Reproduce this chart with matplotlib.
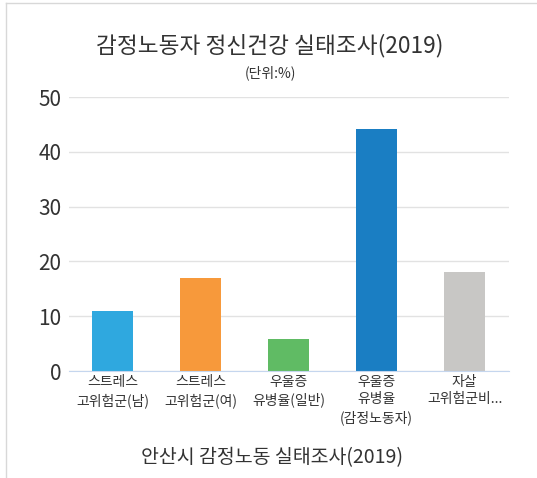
import matplotlib.pyplot as plt
from matplotlib.lines import Line2D

plt.rcParams['font.family'] = ['Noto Sans CJK KR', 'DejaVu Sans']

categories = ["스트레스\n고위험군(남)", "스트레스\n고위험군(여)", "우울증\n유병율(일반)",
              "우울증\n유병율\n(감정노동자)", "자살\n고위험군비..."]
values = [10.9, 17.0, 5.8, 44.1, 18.0]
colors = ["#2fa8df", "#f7993b", "#60bb64", "#1a7ec3", "#c8c7c5"]
yticks = [0, 10, 20, 30, 40, 50]

fig = plt.figure(figsize=(5.37, 4.78), dpi=100)
ax = fig.add_axes([0.1276, 0.2238, 0.8194, 0.5732])

x = range(len(categories))
ax.bar(x, values, width=0.47, color=colors, zorder=3)

ax.set_xlim(-0.5, len(categories) - 0.5)
ax.set_ylim(0, 50)
ax.set_yticks(yticks)
ax.set_xticks(list(x))
ax.set_xticklabels(categories, fontsize=10, color="#333333", linespacing=1.3)
ax.tick_params(axis="y", length=0, pad=5, labelsize=15, labelcolor="#333333")
ax.tick_params(axis="x", length=0, pad=3)
ax.grid(axis="y", color="#e2e2e2", linewidth=1, zorder=0)
for s in ["top", "right", "left"]:
    ax.spines[s].set_visible(False)
ax.spines["bottom"].set_color("#c5d6ee")
ax.spines["bottom"].set_zorder(4)

ax.set_xlabel("안산시 감정노동 실태조사(2019)", fontsize=14, color="#333333", labelpad=16)
ax.xaxis.label.set_x(0.463)

fig.text(0.503, 0.905, "감정노동자 정신건강 실태조사(2019)", fontsize=16.3, color="#333333",
         ha="center", va="center")
fig.text(0.503, 0.847, "(단위:%)", fontsize=10, color="#333333", ha="center", va="center")

# light frame on the left and top
fig.add_artist(Line2D([6 / 537, 6 / 537], [0, 1 - 3 / 478], color="#d8d8d8", linewidth=1))
fig.add_artist(Line2D([6 / 537, 1], [1 - 3 / 478, 1 - 3 / 478], color="#d8d8d8", linewidth=1))

fig.savefig("out.png", dpi=100)
